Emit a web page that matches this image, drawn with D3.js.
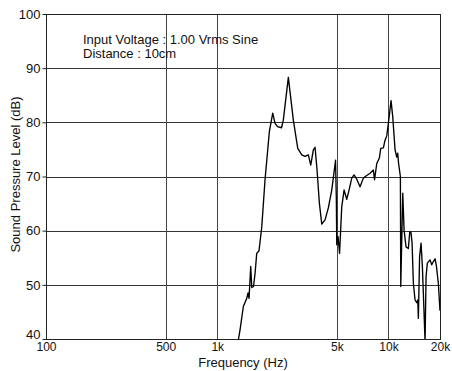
<!DOCTYPE html>
<html>
<head>
<meta charset="utf-8">
<script src="https://cdn.jsdelivr.net/npm/d3@7"></script>
<style>
  html, body { margin: 0; padding: 0; background: #fff; }
  svg { display: block; font-family: "Liberation Sans", Arial, sans-serif; }
</style>
</head>
<body>
<svg id="chart" width="452" height="371"></svg>
<script>
// Frequency response measurement (Hz, dB SPL)
const freqHz = [
  1331, 1359, 1421, 1487, 1513, 1534, 1569, 1591, 1629, 1663,
  1701, 1754, 1820, 1902, 2016, 2109, 2176, 2250, 2374, 2432,
  2602, 2783, 2953, 3116, 3257, 3405, 3517, 3642, 3727, 3828,
  3949, 4078, 4263, 4456, 4665, 4811, 4909, 4963, 4989, 5077,
  5181, 5336, 5505, 5707, 5887, 6104, 6297, 6529, 6825, 7135,
  7399, 7807, 8162, 8295, 8545, 8848, 9016, 9338, 9552, 9774,
  9987, 10356, 10595, 10930, 11180, 11330, 11460, 11740, 11800, 12120,
  12340, 12670, 13070, 13320, 13550, 13740, 13980, 14300, 14630, 14830,
  14950, 15200, 15500, 15780, 16140, 16360, 16580, 16870, 17500, 17900,
  18290, 18720, 19050, 19560, 20000
];
const splDb = [
  40.0, 41.7, 46.0, 47.5, 48.5, 47.5, 53.4, 49.5, 49.7, 52.1,
  55.8, 56.3, 60.7, 69.4, 78.3, 81.7, 79.8, 79.2, 79.0, 80.4,
  88.3, 80.4, 75.2, 74.0, 73.7, 74.0, 72.1, 74.9, 75.4, 71.2,
  65.1, 61.2, 62.0, 64.2, 67.5, 70.8, 73.0, 65.7, 57.4, 58.9,
  55.8, 64.4, 67.5, 65.8, 67.5, 69.7, 70.3, 69.5, 68.1, 69.7,
  70.1, 70.6, 71.2, 69.4, 72.4, 73.4, 75.2, 75.3, 76.7, 77.5,
  79.8, 84.0, 81.0, 74.9, 73.6, 74.3, 72.4, 70.0, 49.7, 66.9,
  60.1, 57.0, 56.7, 59.8, 59.6, 57.7, 50.3, 47.2, 46.7, 47.2,
  43.8, 55.2, 57.7, 53.4, 44.8, 39.5, 51.5, 54.0, 54.6, 53.7,
  54.3, 54.8, 53.5, 50.3, 45.2
];

const xTickValues = [100, 500, 1000, 5000, 10000, 20000];
const xTickLabels = ["100", "500", "1k", "5k", "10k", "20k"];
const yTickValues = [40, 50, 60, 70, 80, 90, 100];
const notes = ["Input Voltage : 1.00 Vrms Sine", "Distance : 10cm"];

const margin = { left: 46, right: 12, top: 14, bottom: 32 };
const W = 452, H = 371;
const svg = d3.select("#chart");

const x = d3.scaleLog().domain([100, 20000]).range([margin.left, W - margin.right]);
const y = d3.scaleLinear().domain([40, 100]).range([H - margin.bottom, margin.top]);

const px = v => Math.round(v) + 0.5;

// grid lines
const grid = svg.append("g");
grid.selectAll("line.h").data(yTickValues.slice(1, -1)).join("line")
  .attr("x1", x(100)).attr("x2", x(20000))
  .attr("y1", d => px(y(d))).attr("y2", d => px(y(d)))
  .attr("stroke", "#333").attr("stroke-width", 1);
grid.selectAll("line.v").data(xTickValues.slice(1, -1)).join("line")
  .attr("x1", d => px(x(d))).attr("x2", d => px(x(d)))
  .attr("y1", y(100)).attr("y2", y(40))
  .attr("stroke", "#444").attr("stroke-width", 1);

// frame
svg.append("rect")
  .attr("x", px(x(100))).attr("y", px(y(100)))
  .attr("width", Math.round(x(20000)) - Math.round(x(100)))
  .attr("height", Math.round(y(40)) - Math.round(y(100)))
  .attr("fill", "none").attr("stroke", "#222").attr("stroke-width", 1);

// axes
const yAxis = svg.append("g").attr("transform", `translate(${px(x(100))},0)`)
  .call(d3.axisLeft(y).tickValues(yTickValues).tickSize(4).tickPadding(2).tickFormat(d3.format("d")));
const xAxis = svg.append("g").attr("transform", `translate(0,${px(y(40))})`)
  .call(d3.axisBottom(x).tickValues(xTickValues).tickSize(0).tickPadding(3)
    .tickFormat((d, i) => xTickLabels[i]));
[yAxis, xAxis].forEach(a => {
  a.select(".domain").remove();
  a.selectAll("line").attr("stroke", "#222");
  a.selectAll("text").attr("fill", "#111")
    .style("font-family", "'Liberation Sans', Arial, sans-serif");
});
yAxis.selectAll("text").style("font-size", "13px");
xAxis.selectAll("text").style("font-size", "12px");
// lowest value label sits just above the corner so it clears the "100" below
yAxis.selectAll(".tick").filter(d => d === 40).select("text").attr("dy", "-0.05em");

// response curve
svg.append("clipPath").attr("id", "plot-clip").append("rect")
  .attr("x", x(100)).attr("y", y(100))
  .attr("width", x(20000) - x(100)).attr("height", y(40) - y(100));
const pts = freqHz.map((f, i) => [f, splDb[i]]);
svg.append("path").datum(pts)
  .attr("clip-path", "url(#plot-clip)")
  .attr("fill", "none").attr("stroke", "#000").attr("stroke-width", 1.35)
  .attr("stroke-linejoin", "round")
  .attr("d", d3.line().x(d => x(d[0])).y(d => y(d[1])));

// measurement conditions
svg.append("g").selectAll("text").data(notes).join("text")
  .attr("x", 83).attr("y", (d, i) => 44 + i * 14)
  .style("font-size", "13px").attr("fill", "#111").text(d => d);

// axis titles
svg.append("text").attr("x", (x(100) + x(20000)) / 2).attr("y", 367)
  .attr("text-anchor", "middle").style("font-size", "13px").attr("fill", "#111")
  .text("Frequency (Hz)");
svg.append("text").attr("transform", `translate(20,${(y(40) + y(100)) / 2 - 2}) rotate(-90)`)
  .attr("text-anchor", "middle").style("font-size", "13px").attr("fill", "#111")
  .text("Sound Pressure Level (dB)");
</script>
</body>
</html>
